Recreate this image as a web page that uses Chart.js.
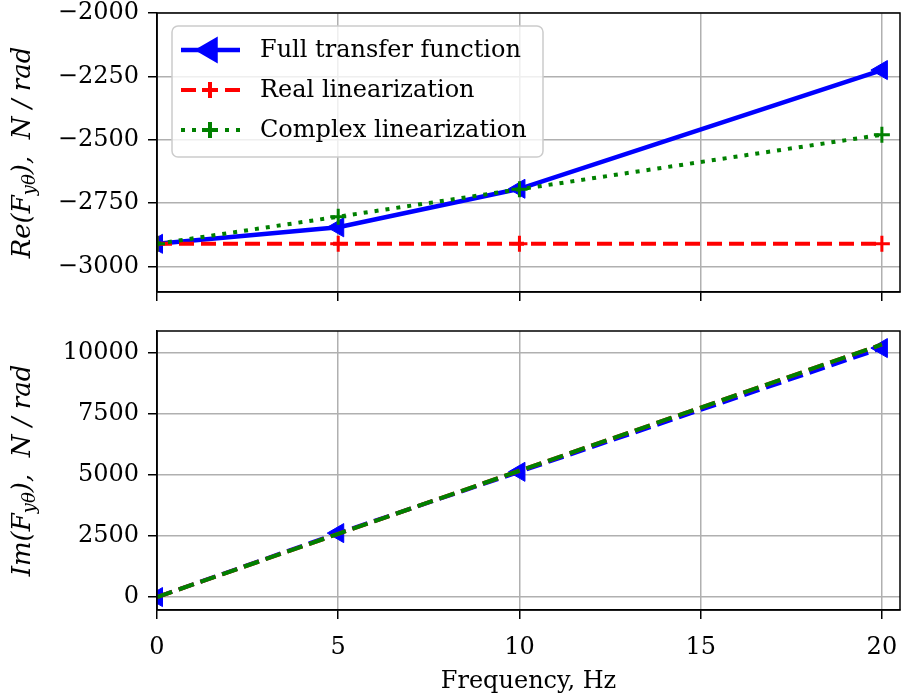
<!DOCTYPE html>
<html>
<head>
<meta charset="utf-8">
<script src="https://cdn.jsdelivr.net/npm/chart.js@4.4.0/dist/chart.umd.min.js"></script>
<style>
body { margin: 0; background: #fff; }
#wrap { position: relative; width: 905px; height: 700px; }
canvas { position: absolute; left: 0; }
#top { top: 0; }
#bottom { top: 320px; }
</style>
</head>
<body>
<div id="wrap">
  <canvas id="top" width="905" height="320"></canvas>
  <canvas id="bottom" width="905" height="380"></canvas>
</div>
<script>
// frequency points, Hz
const freq = [0, 5, 10, 20];

// real part, N/rad
const reFull = [-2910, -2845, -2693, -2225];
const reReal = [-2910, -2910, -2910, -2910];
const reComplex = [-2910, -2803, -2695, -2480];

// imaginary part, N/rad
const imFull = [0, 2620, 5130, 10200];
const imReal = [0, 2590, 5175, 10350];
const imComplex = [0, 2590, 5175, 10350];

const freqTicks = [0, 5, 10, 15, 20];
const reTicks = [-3000, -2750, -2500, -2250, -2000];
const imTicks = [0, 2500, 5000, 7500, 10000];

const seriesNames = ['Full transfer function', 'Real linearization', 'Complex linearization'];

const FONT = '"DejaVu Serif", "Liberation Serif", serif';
const BLUE = '#0000ff', RED = '#ff0000', GREEN = '#008000';

const pts = (ys) => freq.map((f, i) => ({ x: f, y: ys[i] }));
const minus = (v) => v < 0 ? '\u2212' + Math.abs(v) : String(v);

// black box around the plot area
const framePlugin = {
  id: 'frame',
  afterDraw(chart) {
    const { ctx, chartArea: a } = chart;
    ctx.save();
    ctx.strokeStyle = 'black';
    ctx.lineWidth = 1.5;
    ctx.strokeRect(a.left, a.top, a.right - a.left, a.bottom - a.top);
    ctx.restore();
  }
};

// rotated y label with a subscript
function yTitle(head, sub, tail) {
  return {
    id: 'yTitle',
    afterDraw(chart) {
      const { ctx, chartArea: a } = chart;
      const big = 'italic 26px ' + FONT, small = 'italic 18px ' + FONT;
      ctx.save();
      ctx.font = big;
      const w1 = ctx.measureText(head).width, w3 = ctx.measureText(tail).width;
      ctx.font = small;
      const w2 = ctx.measureText(sub).width;
      ctx.translate(30, (a.top + a.bottom) / 2);
      ctx.rotate(-Math.PI / 2);
      ctx.fillStyle = 'black';
      ctx.textAlign = 'left';
      ctx.textBaseline = 'alphabetic';
      let x = -(w1 + w2 + w3) / 2;
      ctx.font = big; ctx.fillText(head, x, 0); x += w1;
      ctx.font = small; ctx.fillText(sub, x, 5); x += w2;
      ctx.font = big; ctx.fillText(tail, x, 0);
      ctx.restore();
    }
  };
}

// legend box in the upper left corner, built from the top chart's datasets
const legendPlugin = {
  id: 'boxLegend',
  afterDraw(chart) {
    const { ctx, chartArea: a } = chart;
    const bx = a.left + 15, by = a.top + 13, bw = 371, bh = 131;
    ctx.save();
    ctx.fillStyle = 'rgba(255,255,255,0.8)';
    ctx.strokeStyle = '#cccccc';
    ctx.lineWidth = 1.5;
    ctx.beginPath();
    ctx.roundRect(bx, by, bw, bh, 6);
    ctx.fill();
    ctx.stroke();
    chart.data.datasets.forEach((ds, i) => {
      const y = by + 24 + i * 40;
      ctx.save();
      ctx.strokeStyle = ds.borderColor;
      ctx.lineWidth = ds.borderWidth;
      ctx.setLineDash(ds.borderDash || []);
      ctx.beginPath();
      ctx.moveTo(bx + 9, y);
      ctx.lineTo(bx + 68, y);
      ctx.stroke();
      ctx.setLineDash([]);
      ctx.fillStyle = ds.pointBackgroundColor;
      ctx.strokeStyle = ds.pointBorderColor;
      Chart.helpers.drawPoint(ctx, {
        pointStyle: ds.pointStyle,
        rotation: ds.pointRotation || 0,
        radius: ds.pointRadius,
        borderWidth: ds.pointBorderWidth
      }, bx + 38, y);
      ctx.restore();
      ctx.fillStyle = 'black';
      ctx.font = '24px ' + FONT;
      ctx.textBaseline = 'middle';
      ctx.textAlign = 'left';
      ctx.fillText(ds.label, bx + 88, y + 1);
    });
    ctx.restore();
  }
};

const tickFont = { family: FONT, size: 24 };

// keep the plot area where the layout padding puts it
function noOverflow(s) {
  s.paddingTop = 0; s.paddingBottom = 0; s.paddingLeft = 0; s.paddingRight = 0;
}

function xScale(showLabels, height) {
  return {
    type: 'linear',
    min: 0,
    max: 20.5,
    afterBuildTicks: (s) => { s.ticks = freqTicks.map(v => ({ value: v })); },
    afterFit: (s) => { s.height = height; noOverflow(s); },
    grid: { color: '#b0b0b0', lineWidth: 1.5, tickColor: 'black', tickWidth: 1.5, tickLength: 9 },
    border: { color: 'black', width: 1.5 },
    ticks: { display: showLabels, font: tickFont, color: 'black', padding: 14, maxRotation: 0 },
    title: showLabels ? {
      display: true, text: 'Frequency, Hz', color: 'black',
      font: { family: FONT, size: 24 }, padding: { top: 0, bottom: 4 }
    } : { display: false }
  };
}

function yScale(min, max, tickList) {
  return {
    min: min,
    max: max,
    afterBuildTicks: (s) => { s.ticks = tickList.map(v => ({ value: v })); },
    afterFit: (s) => { s.width = 157; noOverflow(s); },
    grid: { color: '#b0b0b0', lineWidth: 1.5, tickColor: 'black', tickWidth: 1.5, tickLength: 9 },
    border: { color: 'black', width: 1.5 },
    ticks: { font: tickFont, color: 'black', padding: 9, callback: minus }
  };
}

const common = {
  responsive: false,
  animation: false,
  events: [],
  plugins: { legend: { display: false }, tooltip: { enabled: false } }
};

new Chart(document.getElementById('top'), {
  type: 'line',
  data: {
    datasets: [
      {
        label: seriesNames[0], data: pts(reFull), order: 3, clip: 0,
        borderColor: BLUE, borderWidth: 4.5, pointStyle: 'triangle', pointRotation: -90,
        pointRadius: 11, pointBackgroundColor: BLUE, pointBorderColor: BLUE, pointBorderWidth: 1
      },
      {
        label: seriesNames[1], data: pts(reReal), order: 2, clip: 0,
        borderColor: RED, borderWidth: 4, borderDash: [15, 7], pointStyle: 'cross',
        pointRadius: 8, pointBackgroundColor: RED, pointBorderColor: RED, pointBorderWidth: 3
      },
      {
        label: seriesNames[2], data: pts(reComplex), order: 1, clip: 0,
        borderColor: GREEN, borderWidth: 4, borderDash: [4, 7], pointStyle: 'cross',
        pointRadius: 8, pointBackgroundColor: GREEN, pointBorderColor: GREEN, pointBorderWidth: 3
      }
    ]
  },
  options: Object.assign({}, common, {
    layout: { autoPadding: false, padding: { top: 13, right: 5, left: 0, bottom: 0 } },
    scales: { x: xScale(false, 28), y: yScale(-3100, -2000, reTicks) }
  }),
  plugins: [framePlugin, yTitle('Re(F', 'y\u03b8', '),  N / rad'), legendPlugin]
});

new Chart(document.getElementById('bottom'), {
  type: 'line',
  data: {
    datasets: [
      {
        label: seriesNames[0], data: pts(imFull), order: 3, clip: 0,
        borderColor: BLUE, borderWidth: 4, borderDash: [16, 7], pointStyle: 'triangle', pointRotation: -90,
        pointRadius: 11, pointBackgroundColor: BLUE, pointBorderColor: BLUE, pointBorderWidth: 1
      },
      {
        label: seriesNames[1], data: pts(imReal), order: 2, clip: 0,
        borderColor: RED, borderWidth: 4, borderDash: [16, 7], pointRadius: 0
      },
      {
        label: seriesNames[2], data: pts(imComplex), order: 1, clip: 0,
        borderColor: GREEN, borderWidth: 4, borderDash: [16, 7], pointRadius: 0
      }
    ]
  },
  options: Object.assign({}, common, {
    layout: { autoPadding: false, padding: { top: 11, right: 5, left: 0, bottom: 0 } },
    scales: { x: xScale(true, 90), y: yScale(-530, 10900, imTicks) }
  }),
  plugins: [framePlugin, yTitle('Im(F', 'y\u03b8', '),  N / rad')]
});
</script>
</body>
</html>
